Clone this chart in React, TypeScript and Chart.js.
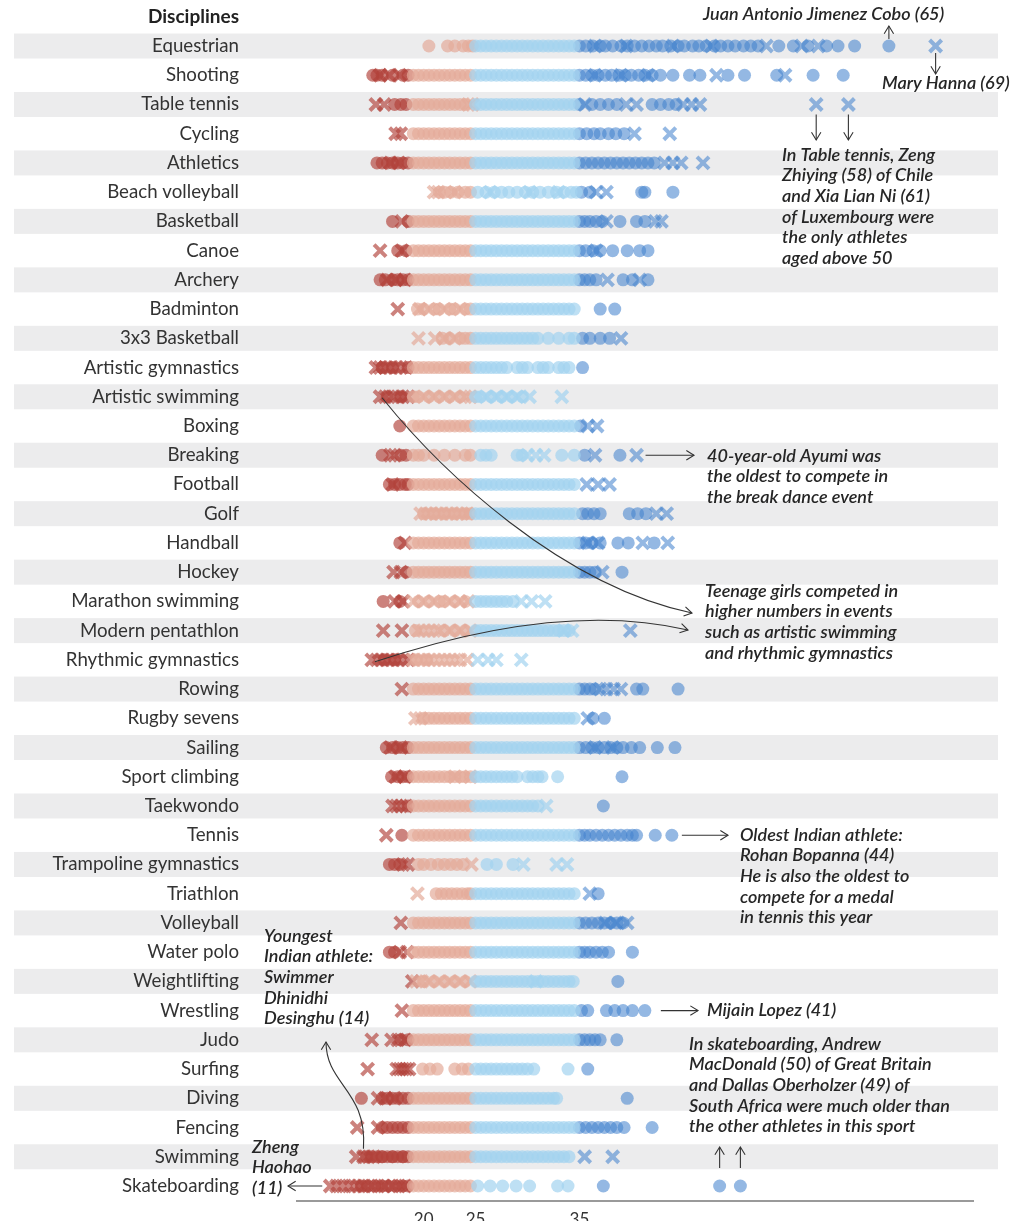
import React, { useEffect, useRef } from 'react';
import { Chart, registerables } from 'chart.js';
Chart.register(...registerables);

const FONT = 'Lato, "Noto Sans", sans-serif';

const DISCIPLINES = [
  'Equestrian', 'Shooting', 'Table tennis', 'Cycling', 'Athletics', 'Beach volleyball', 'Basketball', 'Canoe',
  'Archery', 'Badminton', '3x3 Basketball', 'Artistic gymnastics', 'Artistic swimming', 'Boxing', 'Breaking',
  'Football', 'Golf', 'Handball', 'Hockey', 'Marathon swimming', 'Modern pentathlon', 'Rhythmic gymnastics',
  'Rowing', 'Rugby sevens', 'Sailing', 'Sport climbing', 'Taekwondo', 'Tennis', 'Trampoline gymnastics',
  'Triathlon', 'Volleyball', 'Water polo', 'Weightlifting', 'Wrestling', 'Judo', 'Surfing', 'Diving',
  'Fencing', 'Swimming', 'Skateboarding',
];

const X_TICKS = [20, 25, 35];

// ages drawn as circles, one list per discipline (same order as DISCIPLINES)
const CIRCLE_AGES: number[][] = [
  [20.5, 22.3, 23, 23.8, 24.3, 24.7, 25, 25.5, 26, 26.5, 27, 27.5, 28, 28.5, 29, 29.5, 30, 30.5, 31, 31.5, 32, 32.5, 33, 33.5, 34, 34.5, 35, 35.6, 36.3, 37, 37.5, 38.2, 39, 39.6, 40.3, 41, 41.7, 42.4, 43, 43.8, 44.5, 45.1, 45.9, 46.5, 47.2, 48, 48.6, 49.3, 50, 50.8, 51.5, 52.2, 54.2, 55.6, 57, 58.8, 59.9, 61.5, 64.8],
  [15.1, 15.5, 16, 17, 18, 18.5, 19, 19.5, 20, 20.5, 21, 21.5, 22, 22.5, 23, 23.5, 24, 24.5, 25, 25.5, 26, 26.5, 27, 27.5, 28, 28.5, 29, 29.5, 30, 30.5, 31, 31.5, 32, 32.5, 33, 33.5, 34, 34.5, 35, 35.6, 36.2, 36.8, 37.5, 38.1, 38.8, 39.4, 40, 40.7, 41.3, 42, 42.8, 44, 45.6, 46.6, 49.3, 50.9, 54, 57.5, 60.4],
  [17.2, 17.8, 18.3, 19, 19.5, 20, 20.5, 21, 21.5, 22, 22.5, 23, 23.5, 24, 25, 25.5, 26, 26.5, 27, 27.5, 28, 28.5, 29, 29.5, 30, 30.5, 31, 31.5, 32, 32.5, 33, 33.5, 34, 34.5, 35, 36.2, 37, 37.8, 38.6, 42, 42.8, 43.6, 44.3],
  [19, 19.5, 20, 20.5, 21, 21.5, 22, 22.5, 23, 23.5, 24, 24.5, 25, 25.5, 26, 26.5, 27, 27.5, 28, 28.5, 29, 29.5, 30, 30.5, 31, 31.5, 32, 32.5, 33, 33.5, 34, 34.5, 35, 35.7, 36.4, 37, 37.8, 38.5, 39.3],
  [15.5, 16, 16.5, 17, 17.5, 18, 18.5, 19, 19.5, 20, 20.5, 21, 21.5, 22, 22.5, 23, 23.5, 24, 24.5, 25, 25.5, 26, 26.5, 27, 27.5, 28, 28.5, 29, 29.5, 30, 30.5, 31, 31.5, 32, 32.5, 33, 33.5, 34, 34.5, 35, 35.6, 36.2, 36.8, 37.4, 38, 38.6, 39.2, 39.8, 40.4, 41, 41.6, 42.2],
  [21.5, 22, 22.6, 23.3, 24, 24.5, 25.2, 26, 26.8, 27.5, 28.2, 29, 29.8, 30.5, 31.2, 32, 32.8, 33.5, 34.2, 34.7, 35.2, 36, 41, 41.3, 44],
  [17, 18.5, 19, 19.5, 20, 20.5, 21, 21.5, 22, 22.5, 23, 23.5, 24, 24.5, 25, 25.5, 26, 26.5, 27, 27.5, 28, 28.5, 29, 29.5, 30, 30.5, 31, 31.5, 32, 32.5, 33, 33.5, 34, 34.5, 35, 35.5, 36, 36.6, 37.2, 38.9, 40.5, 41.3],
  [17.5, 18.3, 19, 19.5, 20, 20.5, 21, 21.5, 22, 22.5, 23, 23.5, 24, 24.5, 25, 25.5, 26, 26.5, 27, 27.5, 28, 28.5, 29, 29.5, 30, 30.5, 31, 31.5, 32, 32.5, 33, 33.5, 34, 34.5, 35, 35.6, 36.3, 37, 38.2, 39.6, 40.8, 41.6],
  [15.8, 16.3, 17, 17.5, 18, 18.5, 19, 19.5, 20, 20.5, 21, 21.5, 22, 22.5, 23, 23.5, 24, 24.5, 25, 25.5, 26, 26.5, 27, 27.5, 28, 28.5, 29, 29.5, 30, 30.5, 31, 31.5, 32, 32.5, 33, 33.5, 34, 34.5, 35, 35.5, 36, 36.6, 39.2, 40.1, 41.6],
  [19.4, 20, 21, 21.5, 22.5, 23, 24, 24.5, 25, 25.5, 26, 26.5, 27, 27.5, 28, 28.5, 29, 29.5, 30, 30.5, 31, 31.5, 32, 32.5, 33, 33.5, 34, 34.5, 37, 38.4],
  [21.8, 22.5, 23.5, 24, 24.5, 25, 25.5, 26, 26.5, 27, 27.5, 28, 28.5, 29, 29.5, 30, 30.5, 31, 32, 33, 34, 34.5, 35.3, 36, 37, 37.9],
  [16, 17, 18.5, 19, 19.5, 20, 20.5, 21, 21.5, 22, 22.5, 23, 23.5, 24, 24.5, 25, 25.5, 26, 26.5, 27, 27.5, 28, 29, 29.5, 30, 31, 31.5, 32, 33, 33.5, 34, 35.3],
  [16.5, 17.8, 19, 19.5, 20.5, 21.5, 22.5, 23.5, 25, 25.5, 26.5, 27.5, 28.5, 29.5],
  [17.7, 19, 19.5, 20, 20.5, 21, 21.5, 22, 22.5, 23, 23.5, 24, 24.5, 25, 25.5, 26, 26.5, 27, 27.5, 28, 28.5, 29, 29.5, 30, 30.5, 31, 31.5, 32, 32.5, 33, 33.5, 34, 34.5, 35.1],
  [16, 17.8, 18.3, 19, 19.5, 20, 21, 22, 23, 24, 24.5, 25.5, 26, 26.5, 29, 29.5, 33.3, 34.5, 35.5, 38.9],
  [16.7, 17.2, 17.7, 18.2, 18.5, 19, 19.5, 20, 20.5, 21, 21.5, 22, 22.5, 23, 23.5, 24, 24.5, 25, 25.5, 26, 26.5, 27, 27.5, 28, 28.5, 29, 29.5, 30, 30.5, 31, 31.5, 32, 32.5, 33, 33.5, 34, 34.5],
  [20, 21, 22, 23, 24, 24.5, 25, 25.5, 26, 26.5, 27, 27.5, 28, 28.5, 29, 29.5, 30, 30.5, 31, 31.5, 32, 32.5, 33, 33.5, 34, 34.5, 35.3, 35.8, 36.4, 37, 39.8, 40.6, 41.4],
  [17.7, 19, 19.5, 20, 20.5, 21, 21.5, 22, 22.5, 23, 23.5, 24, 24.5, 25, 25.5, 26, 26.5, 27, 27.5, 28, 28.5, 29, 29.5, 30, 30.5, 31, 31.5, 32, 32.5, 33, 33.5, 34, 34.5, 35, 35.6, 36.2, 37, 38.7, 39.7, 42.2],
  [18.3, 19, 19.5, 20, 20.5, 21, 21.5, 22, 22.5, 23, 23.5, 24, 24.5, 25, 25.5, 26, 26.5, 27, 27.5, 28, 28.5, 29, 29.5, 30, 30.5, 31, 31.5, 32, 32.5, 33, 33.5, 34, 34.5, 35, 35.5, 36, 36.5, 39.1],
  [16.1, 17.7, 19.5, 20.5, 21.5, 22, 23, 24, 25, 25.5, 26, 26.5, 27, 27.5, 28, 28.6],
  [19.2, 22, 23, 24, 25, 25.5, 26, 26.5, 27, 27.5, 28, 28.5, 29, 29.5, 30, 30.5, 31, 31.5, 32, 32.5, 33, 33.5, 34],
  [16.2, 17.2, 19.3, 20.3],
  [19, 19.5, 20, 20.5, 21, 21.5, 22, 22.5, 23, 23.5, 24, 24.5, 25, 25.5, 26, 26.5, 27, 27.5, 28, 28.5, 29, 29.5, 30, 30.5, 31, 31.5, 32, 32.5, 33, 33.5, 34, 34.5, 35, 35.5, 36, 36.5, 40.5, 41.1, 44.5],
  [20, 20.5, 21, 21.5, 22, 22.5, 23, 23.5, 24, 24.5, 25, 25.5, 26, 26.5, 27, 27.5, 28, 28.5, 29, 29.5, 30, 30.5, 31, 31.5, 32, 32.5, 33, 33.5, 34, 34.5, 36.3, 37.4],
  [16.4, 17, 17.5, 18, 18.5, 19, 19.5, 20, 20.5, 21, 21.5, 22, 22.5, 23, 23.5, 24, 24.5, 25, 25.5, 26, 26.5, 27, 27.5, 28, 28.5, 29, 29.5, 30, 30.5, 31, 31.5, 32, 32.5, 33, 33.5, 34, 34.5, 35, 35.6, 36.2, 36.8, 37.4, 38, 38.6, 39.2, 40, 40.8, 42.5, 44.2],
  [16.9, 17.5, 18, 18.5, 19, 19.5, 20, 20.5, 21, 21.5, 22, 22.5, 23, 23.5, 24, 24.5, 25, 25.5, 26, 26.5, 27, 27.5, 28, 28.5, 29, 30, 30.5, 31, 31.4, 32.9, 39.1],
  [18.5, 19, 19.5, 20, 20.5, 21, 21.5, 22, 22.5, 23, 23.5, 24, 24.5, 25, 25.5, 26, 26.5, 27, 27.5, 28, 28.5, 29, 29.5, 30, 30.5, 31, 37.3],
  [17.9, 19, 19.5, 20, 20.5, 21, 21.5, 22, 22.5, 23, 23.5, 24, 24.5, 25, 25.5, 26, 26.5, 27, 27.5, 28, 28.5, 29, 29.5, 30, 30.5, 31, 31.5, 32, 32.5, 33, 33.5, 34, 34.5, 35, 35.5, 36, 36.6, 37.2, 37.8, 38.4, 39, 39.6, 40.1, 40.5, 42.3, 43.9],
  [16.7, 17.2, 17.7, 19.5, 20, 20.7, 21.4, 22, 22.6, 23.2, 23.8, 26.1, 27, 28.6],
  [21.2, 21.7, 22.2, 22.7, 23.2, 23.7, 24.2, 24.5, 25, 25.5, 26, 26.5, 27, 27.5, 28, 28.5, 29, 29.5, 30, 30.5, 31, 31.5, 32, 32.5, 33, 33.5, 34, 34.5, 36.8],
  [19, 19.5, 20, 20.5, 21, 21.5, 22, 22.5, 23, 23.5, 24, 24.5, 25, 25.5, 26, 26.5, 27, 27.5, 28, 28.5, 29, 29.5, 30, 30.5, 31, 31.5, 32, 32.5, 33, 33.5, 34, 34.5, 35, 35.6, 36.2, 36.8, 37.4, 38, 38.6, 39.2],
  [16.7, 17.2, 19, 19.5, 20, 20.5, 21, 21.5, 22, 22.5, 23, 23.5, 24, 24.5, 25, 25.5, 26, 26.5, 27, 27.5, 28, 28.5, 29, 29.5, 30, 30.5, 31, 31.5, 32, 32.5, 33, 33.5, 34, 34.5, 35, 35.5, 36, 36.6, 37.2, 37.8, 40.1],
  [20, 21, 22, 23, 24, 25, 25.5, 26, 26.5, 27, 27.5, 28, 28.5, 29, 29.5, 30, 30.5, 31, 31.5, 32, 32.5, 33, 33.5, 34, 34.4, 38.7],
  [19, 19.5, 20, 20.5, 21, 21.5, 22, 22.5, 23, 23.5, 24, 24.5, 25, 25.5, 26, 26.5, 27, 27.5, 28, 28.5, 29, 29.5, 30, 30.5, 31, 31.5, 32, 32.5, 33, 33.5, 34, 34.5, 35.2, 35.8, 37.6, 38.4, 39.2, 40.1, 41.3],
  [17.8, 18.5, 19, 19.5, 20, 20.5, 21, 21.5, 22, 22.5, 23, 23.5, 24, 24.5, 25, 25.5, 26, 26.5, 27, 27.5, 28, 28.5, 29, 29.5, 30, 30.5, 31, 31.5, 32, 32.5, 33, 33.5, 34, 34.5, 35, 35.5, 36, 36.5, 37, 38.6],
  [19.9, 20.6, 21.3, 23, 23.7, 24.3, 25, 25.5, 26, 26.5, 27, 27.5, 28, 28.5, 29, 29.5, 30, 30.6, 33.9, 35.8],
  [14, 16, 16.5, 17, 17.5, 18, 18.5, 19, 19.5, 20, 20.5, 21, 21.5, 22, 22.5, 23, 23.5, 24, 24.5, 25, 25.5, 26, 26.5, 27, 27.5, 28, 28.5, 29, 29.5, 30, 30.5, 31, 31.5, 32, 32.5, 32.8, 39.6],
  [16, 16.5, 17, 17.5, 18, 18.5, 19, 19.5, 20, 20.5, 21, 21.5, 22, 22.5, 23, 23.5, 24, 24.5, 25, 25.5, 26, 26.5, 27, 27.5, 28, 28.5, 29, 29.5, 30, 30.5, 31, 31.5, 32, 32.5, 33, 33.5, 34, 34.5, 35, 35.6, 36.2, 36.8, 37.4, 38, 38.6, 39.3, 42],
  [14.5, 15, 15.5, 16, 16, 16.5, 17, 17, 17.5, 18, 18, 18.5, 19, 19.5, 20, 20.5, 21, 21.5, 22, 22.5, 23, 23.5, 24, 24.5, 25, 25.5, 26, 26.5, 27, 27.5, 28, 28.5, 29, 29.5, 30, 30.5, 31, 31.5, 32, 32.5, 33, 33.5, 34],
  [14, 14.6, 15.3, 16, 16.6, 17.3, 18, 18.5, 19, 19.5, 20, 20.5, 21, 21.5, 22, 22.5, 23, 23.5, 24, 24.5, 25.2, 26.4, 27.6, 28.9, 30.2, 32.9, 33.9, 37.3, 48.5, 50.5],
];

// ages drawn as crosses, one list per discipline (same order as DISCIPLINES)
const CROSS_AGES: number[][] = [
  [36.5, 39.5, 44, 47.7, 53, 56.4, 58, 69.3],
  [15.8, 16.7, 17.7, 36.5, 39, 41.6, 48.2, 54.8],
  [15.4, 16.2, 24.3, 24.7, 35.5, 39.5, 40.5, 45, 45.8, 46.6, 57.8, 60.9],
  [17.3, 17.8, 40.3, 43.7],
  [16.8, 17.6, 43.2, 44, 44.8, 46.9],
  [21, 21.4, 23, 26.4, 30.2, 33, 36.6, 37.6],
  [17.9, 37.6, 42.3, 42.9],
  [15.8, 17.9, 36.6],
  [16.5, 17.3, 18.2, 37.7, 40.8],
  [17.5, 19.6, 20.5, 22, 23.5],
  [19.5, 21.1, 22, 23, 39],
  [15.4, 15.8, 16.3, 16.8, 17.3, 17.8, 18.3],
  [15.8, 16.3, 17, 17.5, 18, 18.5, 20, 21, 22, 23, 24, 24.5, 26, 27, 28, 29, 30.2, 33.3],
  [35.8, 36.7],
  [16.8, 17.2, 30, 30.8, 31.6, 36.5, 40.5],
  [17, 35.7, 36.8, 37.9],
  [19.7, 20.2, 20.7, 21.2, 21.7, 22.2, 22.7, 23.2, 23.7, 24.2, 42.4, 43.4],
  [18.2, 35.8, 36.8, 41.1, 43.5],
  [17.1, 17.8, 37.2],
  [17.2, 18, 19, 20, 21, 22.5, 23.5, 24.3, 29.4, 30.4, 31.7],
  [16.1, 17.9, 19.5, 20, 20.5, 21, 21.5, 22.5, 23.5, 24.5, 33.5, 34.3, 39.9],
  [15, 15.5, 16, 16.5, 17, 17.5, 18, 18.5, 19, 19.5, 20, 20.5, 21, 21.5, 22, 22.5, 23, 23.5, 24.2, 25.2, 26.2, 27, 29.4],
  [17.9, 37, 37.6, 38.3, 39],
  [19.2, 19.7, 35.8],
  [16.8, 17.8, 36.5, 38.2],
  [17.3, 18.2, 23, 24.5],
  [17, 17.4, 17.8, 18.3, 31.8],
  [16.4],
  [18, 18.5, 24.6, 29.6, 32.8, 33.8],
  [19.4, 36],
  [17.8, 37.5, 38.5, 39.6],
  [17.7, 18.4],
  [18.9, 19.3, 19.8, 20.5, 21.5, 22.5, 23.5, 24.5, 30.8],
  [17.9],
  [15, 16.9, 17.5, 18.2],
  [14.6, 17.4, 17.7, 18, 18.3, 18.6],
  [15.6, 16.3, 17.2],
  [13.6, 15.6],
  [13.5, 14.2, 14.7, 15.2, 35.5, 38.2],
  [11, 11.6, 12.2, 12.8, 13.3, 13.8, 14.3, 15, 15.6, 16.2, 17, 17.6, 18.2],
];

const BIN_COLORS = ['rgba(178,66,58,0.66)', 'rgba(228,171,154,0.7)', 'rgba(163,211,239,0.7)', 'rgba(66,130,206,0.57)'];
const binOf = (a: number) => (a < 19 ? 0 : a < 25 ? 1 : a < 35 ? 2 : 3);

function buildDatasets() {
  const order = [2, 1, 0, 3];
  const sets: any[] = [];
  for (const shape of ['circle', 'crossRot']) {
    const src = shape === 'circle' ? CIRCLE_AGES : CROSS_AGES;
    for (const b of order) {
      const data: any[] = [];
      src.forEach((ages, i) => ages.forEach((a) => { if (binOf(a) === b) data.push({ x: a, y: DISCIPLINES[i] }); }));
      sets.push(shape === 'circle'
        ? { data, pointStyle: 'circle', pointRadius: 6.5, backgroundColor: BIN_COLORS[b], borderWidth: 0, pointBorderWidth: 0 }
        : { data, pointStyle: 'crossRot', pointRadius: 8.5, borderColor: BIN_COLORS[b], backgroundColor: BIN_COLORS[b], pointBorderWidth: 4, borderWidth: 4 });
    }
  }
  return sets;
}

function head(ctx: CanvasRenderingContext2D, x: number, y: number, ang: number) {
  const len = 9, sp = 0.55;
  ctx.beginPath();
  ctx.moveTo(x - len * Math.cos(ang - sp), y - len * Math.sin(ang - sp));
  ctx.lineTo(x, y);
  ctx.lineTo(x - len * Math.cos(ang + sp), y - len * Math.sin(ang + sp));
  ctx.stroke();
}
function arrow(ctx: CanvasRenderingContext2D, x1: number, y1: number, x2: number, y2: number) {
  ctx.beginPath(); ctx.moveTo(x1, y1); ctx.lineTo(x2, y2); ctx.stroke();
  head(ctx, x2, y2, Math.atan2(y2 - y1, x2 - x1));
}
function lines(ctx: CanvasRenderingContext2D, x: number, y: number, arr: string[], lh = 20.6) {
  arr.forEach((t, i) => ctx.fillText(t, x, y + i * lh));
}

const overlay = {
  id: 'overlay',
  beforeDraw(chart: any) {
    const { ctx } = chart; const ys = chart.scales.y;
    ctx.save();
    ctx.fillStyle = '#ececed';
    DISCIPLINES.forEach((_, i) => {
      if (i % 2 === 0) { const py = ys.getPixelForValue(i); ctx.fillRect(14, py - 12.5, 984, 25); }
    });
    ctx.fillStyle = '#222';
    ctx.font = `bold 19px ${FONT}`;
    ctx.textAlign = 'right'; ctx.textBaseline = 'middle';
    ctx.fillText('Disciplines', 239, 17);
    ctx.restore();
  },
  afterDraw(chart: any) {
    const { ctx } = chart; const xs = chart.scales.x; const ys = chart.scales.y;
    const X = (a: number) => xs.getPixelForValue(a);
    const Y = (d: string) => ys.getPixelForValue(DISCIPLINES.indexOf(d));
    ctx.save();
    ctx.strokeStyle = '#333'; ctx.lineWidth = 1.1;
    // Equestrian
    arrow(ctx, X(64.8), Y('Equestrian') - 7, X(64.8), 26);
    arrow(ctx, X(69.3), Y('Equestrian') + 7, X(69.3), 74);
    // Table tennis
    arrow(ctx, X(57.8), Y('Table tennis') + 10, X(57.8), 140);
    arrow(ctx, X(60.9), Y('Table tennis') + 10, X(60.9), 140);
    // Breaking
    arrow(ctx, X(40.5) + 9, Y('Breaking'), 694, Y('Breaking'));
    // teenage curves
    {
      const x0 = X(15.8) + 2, y0 = Y('Artistic swimming') + 1;
      ctx.beginPath(); ctx.moveTo(x0, y0); ctx.bezierCurveTo(440, 470, 560, 585, 692, 613); ctx.stroke();
      head(ctx, 692, 613, Math.atan2(613 - 585, 692 - 560));
      const x1 = X(15.3), y1 = Y('Rhythmic gymnastics') + 2;
      ctx.beginPath(); ctx.moveTo(x1, y1); ctx.quadraticCurveTo(560, 600, 688, 630); ctx.stroke();
      head(ctx, 688, 630, Math.atan2(630 - 600, 688 - 560));
    }
    // Tennis
    arrow(ctx, X(43.9) + 10, Y('Tennis'), 728, Y('Tennis'));
    // Youngest Indian (swimming)
    {
      const x0 = X(14.2), y0 = Y('Swimming') - 8;
      ctx.beginPath(); ctx.moveTo(x0, y0); ctx.bezierCurveTo(x0 + 4, 1090, 326, 1085, 326, 1042); ctx.stroke();
      head(ctx, 326, 1042, -Math.PI / 2);
    }
    // Wrestling
    arrow(ctx, X(41.3) + 16, Y('Wrestling'), 698, Y('Wrestling'));
    // Skateboarding
    arrow(ctx, X(48.5), Y('Skateboarding') - 18, X(48.5), 1147);
    arrow(ctx, X(50.5), Y('Skateboarding') - 18, X(50.5), 1147);
    arrow(ctx, X(11) - 8, Y('Skateboarding'), 288, Y('Skateboarding'));

    ctx.fillStyle = '#262626';
    ctx.font = `italic 600 18px ${FONT}`;
    ctx.textAlign = 'left'; ctx.textBaseline = 'middle';
    ctx.fillText('Juan Antonio Jimenez Cobo (65)', 703, 14);
    ctx.fillText('Mary Hanna (69)', 882, 83);
    lines(ctx, 782, 155, ['In Table tennis, Zeng', 'Zhiying (58) of Chile', 'and Xia Lian Ni (61)', 'of Luxembourg were', 'the only athletes', 'aged above 50']);
    lines(ctx, 707, 456, ['40-year-old Ayumi was', 'the oldest to compete in', 'the break dance event']);
    lines(ctx, 705, 591, ['Teenage girls competed in', 'higher numbers in events', 'such as artistic swimming', 'and rhythmic gymnastics']);
    lines(ctx, 740, 835, ['Oldest Indian athlete:', 'Rohan Bopanna (44)', 'He is also the oldest to', 'compete for a medal', 'in tennis this year']);
    lines(ctx, 264, 936, ['Youngest', 'Indian athlete:', 'Swimmer', 'Dhinidhi', 'Desinghu (14)']);
    ctx.fillText('Mijain Lopez (41)', 707, 1010);
    lines(ctx, 689, 1044, ['In skateboarding, Andrew', 'MacDonald (50) of Great Britain', 'and Dallas Oberholzer (49) of', 'South Africa were much older than', 'the other athletes in this sport']);
    lines(ctx, 252, 1147, ['Zheng', 'Haohao', '(11)']);
    ctx.restore();
  },
};

export default function App() {
  const ref = useRef<HTMLCanvasElement | null>(null);
  useEffect(() => {
    if (!ref.current) return;
    const chart = new Chart(ref.current, {
      type: 'scatter',
      data: { datasets: buildDatasets() },
      options: {
        animation: false,
        responsive: false,
        events: [],
        layout: { autoPadding: false, padding: { left: 0, right: 37, top: 31.4, bottom: 0 } },
        plugins: { legend: { display: false }, tooltip: { enabled: false } },
        scales: {
          x: {
            type: 'linear', min: 7.8, max: 72.9,
            grid: { display: false, drawTicks: false },
            border: { display: true, color: '#9a9a9a', width: 2 },
            ticks: { font: { family: FONT, size: 17 }, color: '#333', padding: 9 },
            afterBuildTicks: (s: any) => { s.ticks = X_TICKS.map((v) => ({ value: v })); },
            afterFit: (s: any) => { s.height = 20.4; s.paddingLeft = 0; s.paddingRight = 0; },
          },
          y: {
            type: 'category', labels: DISCIPLINES, offset: true,
            grid: { display: false, drawTicks: false },
            border: { display: false },
            ticks: { font: { family: FONT, size: 18.7 }, color: '#333', padding: 58, autoSkip: false },
            afterFit: (s: any) => { s.width = 297; s.paddingTop = 0; s.paddingBottom = 0; },
          },
        },
      } as any,
      plugins: [overlay],
    });
    return () => chart.destroy();
  }, []);
  return (
    <div style={{ position: 'absolute', left: 0, top: 0, width: 1010, height: 1221, background: '#fff' }}>
      <canvas ref={ref} width={1010} height={1221} style={{ display: 'block', width: 1010, height: 1221 }} />
    </div>
  );
}
